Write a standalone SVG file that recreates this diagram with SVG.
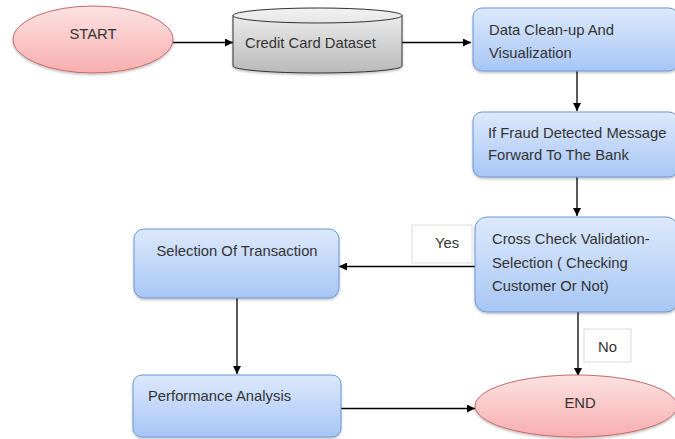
<svg xmlns="http://www.w3.org/2000/svg" width="675" height="439" viewBox="0 0 675 439">
  <defs>
    <linearGradient id="gBlue" x1="0" y1="0" x2="0" y2="1">
      <stop offset="0" stop-color="#dde9fc"/>
      <stop offset="1" stop-color="#a7c6f5"/>
    </linearGradient>
    <linearGradient id="gRed" x1="0" y1="0" x2="0" y2="1">
      <stop offset="0" stop-color="#fde2e2"/>
      <stop offset="1" stop-color="#f8aeae"/>
    </linearGradient>
    <linearGradient id="gGray" x1="0" y1="0" x2="0" y2="1">
      <stop offset="0" stop-color="#f2f2f2"/>
      <stop offset="1" stop-color="#b9b9b9"/>
    </linearGradient>
    <filter id="shadow" x="-10%" y="-10%" width="120%" height="130%">
      <feDropShadow dx="0" dy="1.5" stdDeviation="1.2" flood-color="#000" flood-opacity="0.25"/>
    </filter>
    <marker id="arrow" viewBox="0 0 10 10" refX="10" refY="5" markerWidth="8" markerHeight="8" markerUnits="userSpaceOnUse" orient="auto">
      <path d="M0,0 L10,5 L0,10 z" fill="#000"/>
    </marker>
  </defs>
  <style>
    text { font-family: "Liberation Sans", Arial, sans-serif; font-size: 14.8px; fill: #333; }
    .box { fill: url(#gBlue); stroke: #6b97d4; stroke-width: 1; filter: url(#shadow); }
    .term { fill: url(#gRed); stroke: #c46a6a; stroke-width: 1; filter: url(#shadow); }
    .label { fill: #fff; stroke: #dcdcdc; stroke-width: 1; }
    .edge { stroke: #000; stroke-width: 1.3; fill: none; marker-end: url(#arrow); }
  </style>

  <rect width="675" height="439" fill="#fff"/>

  <g id="connectors">
    <line class="edge" x1="173" y1="42.5" x2="233" y2="42.5"/>
    <line class="edge" x1="402" y1="42.5" x2="471" y2="42.5"/>
    <line class="edge" x1="577" y1="71" x2="577" y2="111"/>
    <line class="edge" x1="577" y1="177" x2="577" y2="216"/>
    <line class="edge" x1="475" y1="266.5" x2="339" y2="266.5"/>
    <line class="edge" x1="237" y1="298" x2="237" y2="374"/>
    <line class="edge" x1="578" y1="312" x2="578" y2="376"/>
    <line class="edge" x1="341" y1="408.5" x2="475" y2="408.5"/>
  </g>

  <g id="start">
    <ellipse class="term" cx="93" cy="39.5" rx="80" ry="33.5"/>
    <text x="93" y="38.5" text-anchor="middle">START</text>
  </g>

  <g id="dataset">
    <path d="M233,15.5 L233,66 A84.5,7 0 0 0 402,66 L402,15.5 A84.5,7.5 0 0 0 233,15.5 z" fill="url(#gGray)" stroke="#333" stroke-width="1" filter="url(#shadow)"/>
    <path d="M233,15.5 A84.5,7.5 0 0 0 402,15.5" fill="none" stroke="#333" stroke-width="1"/>
    <text x="245" y="47.5">Credit Card Dataset</text>
  </g>

  <g id="cleanup">
    <rect class="box" x="473" y="8" width="205" height="63" rx="9"/>
    <text x="489" y="34.5">Data Clean-up And</text>
    <text x="489" y="57.5">Visualization</text>
  </g>

  <g id="fraud">
    <rect class="box" x="473" y="112" width="205" height="65" rx="9"/>
    <text x="488" y="137.5">If Fraud Detected Message</text>
    <text x="488" y="159.5">Forward To The Bank</text>
  </g>

  <g id="crosscheck">
    <rect class="box" x="475" y="217" width="203" height="95" rx="12"/>
    <text x="492" y="243.5">Cross Check Validation-</text>
    <text x="492" y="267.5">Selection ( Checking</text>
    <text x="492" y="290.5">Customer Or Not)</text>
  </g>

  <g id="yes-label">
    <rect class="label" x="412" y="225" width="60" height="38"/>
    <text x="435" y="247.5">Yes</text>
  </g>

  <g id="selection">
    <rect class="box" x="134" y="229" width="205" height="69" rx="10"/>
    <text x="237" y="255.5" text-anchor="middle">Selection Of Transaction</text>
  </g>

  <g id="performance">
    <rect class="box" x="133" y="375" width="208" height="62" rx="9"/>
    <text x="148" y="400.5">Performance Analysis</text>
  </g>

  <g id="no-label">
    <rect class="label" x="584" y="329" width="47" height="33"/>
    <text x="607.5" y="351.5" text-anchor="middle">No</text>
  </g>

  <g id="end">
    <ellipse class="term" cx="576" cy="406" rx="101" ry="31"/>
    <text x="580" y="407.5" text-anchor="middle">END</text>
  </g>
</svg>
